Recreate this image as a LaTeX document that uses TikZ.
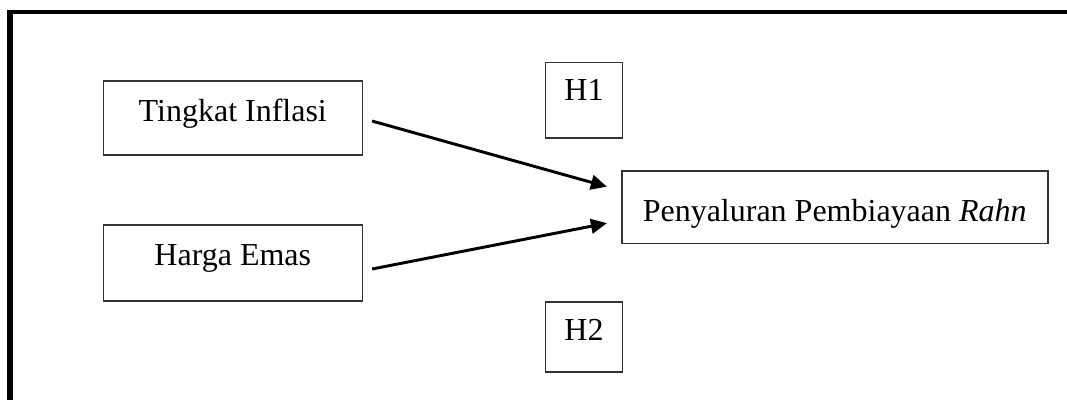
\documentclass[tikz,border=0pt]{standalone}
\usepackage{fontspec}
\setmainfont{Liberation Serif}
\usetikzlibrary{arrows.meta,calc}
\begin{document}
\begin{tikzpicture}[x=0.75pt,y=-0.75pt,
  varbox/.style={draw=black!80, line width=1.2pt, inner sep=0pt, anchor=base,
    font=\fontsize{24}{28}\selectfont, align=center},
  link/.style={line width=2.2pt, -{Triangle[length=12pt,width=11pt]}}]
  \useasboundingbox (0,0) rectangle (1067,400);
  % open frame: top and left edges only
  \fill[black] (7.3,9.5) rectangle (1067,14);
  \fill[black] (7.3,9.5) rectangle (13.3,400);

  % variables
  \node[varbox, minimum width=194.25pt, text height=30.5pt, text depth=25pt]
    (ti) at (232.8,121.7) {Tingkat Inflasi};
  \node[varbox, minimum width=194.25pt, text height=30pt, text depth=27pt]
    (he) at (232.8,265) {Harga Emas};
  \node[varbox, minimum width=319.5pt, text height=38pt, text depth=16.2pt]
    (py) at (834.7,221.7) {Penyaluran Pembiayaan \textit{Rahn}};

  % hypothesis labels
  \node[varbox, minimum width=57.5pt, text height=28pt, text depth=28.7pt]
    (h1) at (584,100) {H1};
  \node[varbox, minimum width=57.5pt, text height=28.5pt, text depth=23.8pt]
    (h2) at (584,340) {H2};

  % effects
  \draw[link] ($(ti.east)+(9,3)$) -- ($(py.west)+(-14,-20.5)$);
  \draw[link] ($(he.east)+(9,6)$) -- ($(py.west)+(-14,16)$);
\end{tikzpicture}
\end{document}
